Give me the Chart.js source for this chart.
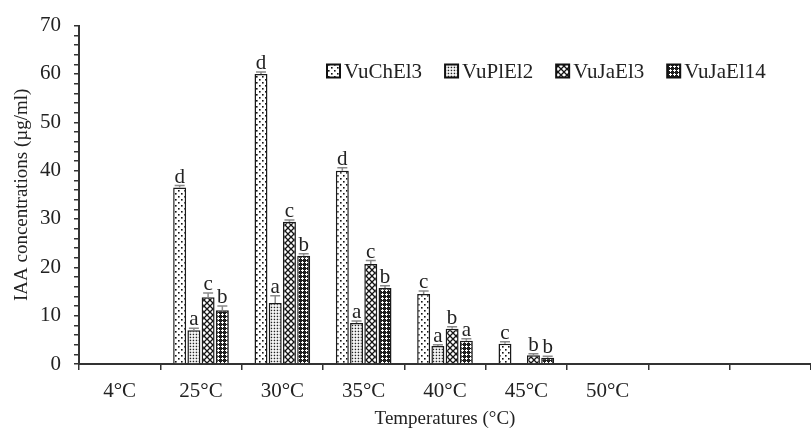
<!DOCTYPE html>
<html>
<head>
<meta charset="utf-8">
<script src="https://cdn.jsdelivr.net/npm/chart.js@4/dist/chart.umd.min.js"></script>
<style>
  html, body { margin: 0; padding: 0; background: #fff; }
  #wrap { width: 811px; height: 430px; }
</style>
</head>
<body>
<div id="wrap"><canvas id="myChart" width="811" height="430"></canvas></div>
<script>
// categories (the two last slots are empty on the original axis)
const temps = ["4°C", "25°C", "30°C", "35°C", "40°C", "45°C", "50°C", "", ""];
const strains = ["VuChEl3", "VuPlEl2", "VuJaEl3", "VuJaEl14"];

// IAA (µg/ml)
const vuChEl3 = [null, 36.5, 60.0, 40.0, 14.5, 4.2, null, null, null];
const vuPlEl2 = [null, 7.0, 12.6, 8.5, 3.7, null, null, null, null];
const vuJaEl3 = [null, 13.8, 29.4, 20.7, 7.3, 1.8, null, null, null];
const vuJaEl14 = [null, 11.1, 22.4, 15.7, 4.8, 1.3, null, null, null];

// error bars
const errChEl3 = [0, 0.4, 0.4, 0.6, 0.6, 0.4, 0, 0, 0];
const errPlEl2 = [0, 0.4, 1.5, 0.4, 0.3, 0, 0, 0, 0];
const errJaEl3 = [0, 0.9, 0.4, 0.7, 0.4, 0.3, 0, 0, 0];
const errJaEl14 = [0, 0.9, 0.4, 0.5, 0.4, 0.3, 0, 0, 0];

// significance letters
const letChEl3 = ["", "d", "d", "d", "c", "c", "", "", ""];
const letPlEl2 = ["", "a", "a", "a", "a", "", "", "", ""];
const letJaEl3 = ["", "c", "c", "c", "b", "b", "", "", ""];
const letJaEl14 = ["", "b", "b", "b", "a", "b", "", "", ""];

const FONT = "'Liberation Serif', 'Times New Roman', serif";
const INK = "#222";

function makePattern(size, draw) {
  const c = document.createElement("canvas");
  c.width = size;
  c.height = size;
  const g = c.getContext("2d");
  draw(g);
  return c.getContext("2d").createPattern(c, "repeat");
}

const patterns = [
  // sparse black dots on white
  makePattern(6, (g) => {
    g.fillStyle = "#fff"; g.fillRect(0, 0, 6, 6);
    g.fillStyle = "#111";
    g.fillRect(1, 1, 1.6, 1.6);
    g.fillRect(4, 4, 1.6, 1.6);
  }),
  // small grid of dots
  makePattern(3, (g) => {
    g.fillStyle = "#fff"; g.fillRect(0, 0, 3, 3);
    g.fillStyle = "#222";
    g.fillRect(0.7, 0.7, 1.5, 1.5);
  }),
  // cross hatch (diamonds)
  makePattern(6, (g) => {
    g.fillStyle = "#fff"; g.fillRect(0, 0, 6, 6);
    g.strokeStyle = "#151515";
    g.lineWidth = 1.3;
    g.beginPath();
    g.moveTo(0, 0); g.lineTo(6, 6);
    g.moveTo(6, 0); g.lineTo(0, 6);
    g.stroke();
  }),
  // white crosses on dark
  makePattern(4, (g) => {
    g.fillStyle = "#1e1e1e"; g.fillRect(0, 0, 4, 4);
    g.fillStyle = "#fff";
    g.fillRect(2, 1, 1, 1);
    g.fillRect(1, 2, 3, 1);
    g.fillRect(2, 3, 1, 1);
  }),
];

const values = [vuChEl3, vuPlEl2, vuJaEl3, vuJaEl14];
const errors = [errChEl3, errPlEl2, errJaEl3, errJaEl14];
const letters = [letChEl3, letPlEl2, letJaEl3, letJaEl14];

const errorBarsPlugin = {
  id: "errorBars",
  afterDatasetsDraw(chart) {
    const ctx = chart.ctx;
    const y = chart.scales.y;
    ctx.save();
    chart.data.datasets.forEach((ds, di) => {
      const meta = chart.getDatasetMeta(di);
      meta.data.forEach((bar, i) => {
        const v = ds.data[i];
        if (v === null || v === undefined) return;
        const err = errors[di][i] || 0;
        const top = y.getPixelForValue(v + err);
        const base = y.getPixelForValue(v);
        if (err > 0) {
          ctx.strokeStyle = "#8a8a8a";
          ctx.lineWidth = 1.5;
          ctx.beginPath();
          ctx.moveTo(bar.x, base);
          ctx.lineTo(bar.x, top);
          ctx.moveTo(bar.x - 5, top);
          ctx.lineTo(bar.x + 5, top);
          ctx.stroke();
        }
        const txt = letters[di][i];
        if (txt) {
          ctx.fillStyle = INK;
          ctx.font = "21px " + FONT;
          ctx.textAlign = "center";
          ctx.textBaseline = "alphabetic";
          ctx.fillText(txt, bar.x, top - 3);
        }
      });
    });
    ctx.restore();
  },
};

const legendPlugin = {
  id: "patternLegend",
  afterDraw(chart) {
    const ctx = chart.ctx;
    ctx.save();
    ctx.font = "21px " + FONT;
    ctx.textBaseline = "middle";
    ctx.textAlign = "left";
    let x = 327;
    const cy = 71;
    strains.forEach((name, i) => {
      ctx.fillStyle = patterns[i];
      ctx.fillRect(x, cy - 6.5, 13, 13);
      ctx.strokeStyle = "#111";
      ctx.lineWidth = 2;
      ctx.strokeRect(x, cy - 6.5, 13, 13);
      ctx.fillStyle = INK;
      ctx.fillText(name, x + 17, cy + 1);
      x += 17 + ctx.measureText(name).width + 23;
    });
    ctx.restore();
  },
};

const datasets = strains.map((name, i) => ({
  label: name,
  data: values[i],
  backgroundColor: patterns[i],
  borderColor: "#1a1a1a",
  borderWidth: 1.5,
  borderSkipped: "bottom",
  categoryPercentage: 0.7,
  barPercentage: 0.91,
}));

const chart = new Chart(document.getElementById("myChart"), {
  type: "bar",
  data: { labels: temps, datasets: datasets },
  options: {
    responsive: false,
    animation: false,
    events: [],
    layout: { padding: { top: 12, right: 0, bottom: 0, left: 0 } },
    plugins: {
      legend: { display: false },
      tooltip: { enabled: false },
    },
    scales: {
      x: {
        offset: true,
        grid: {
          offset: true,
          drawOnChartArea: false,
          drawTicks: true,
          tickLength: 6,
          color: "#333",
          lineWidth: 1.5,
        },
        border: { color: "#333", width: 2 },
        ticks: {
          color: INK,
          font: { family: FONT, size: 21 },
          padding: 9,
          maxRotation: 0,
          autoSkip: false,
        },
        title: {
          display: true,
          text: "Temperatures (°C)",
          color: INK,
          font: { family: FONT, size: 19 },
          padding: { top: 0, bottom: 0 },
        },
        afterFit: (s) => { s.height = 66; },
      },
      y: {
        min: 0,
        max: 70,
        grid: {
          drawOnChartArea: false,
          drawTicks: true,
          tickLength: 5,
          color: "#333",
          lineWidth: 1.5,
        },
        border: { color: "#333", width: 2 },
        ticks: {
          stepSize: 2,
          autoSkip: false,
          color: INK,
          font: { family: FONT, size: 21 },
          padding: 13,
          callback: (v) => (v % 10 === 0 ? v : ""),
        },
        title: {
          display: true,
          text: "IAA concentrations (µg/ml)",
          color: INK,
          font: { family: FONT, size: 19 },
          padding: { top: 11, bottom: 0 },
        },
        afterFit: (s) => { s.width = 79; },
      },
    },
  },
  plugins: [errorBarsPlugin, legendPlugin],
});
</script>
</body>
</html>
